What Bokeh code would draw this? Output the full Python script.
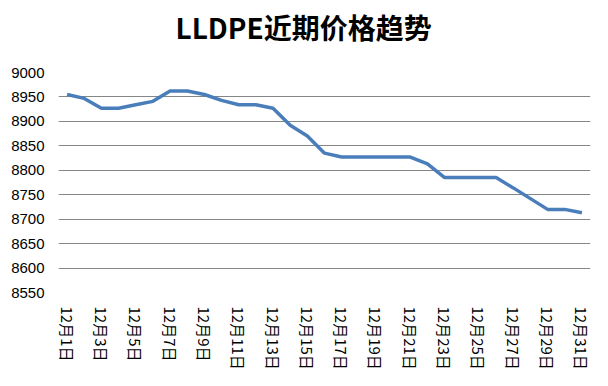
from bokeh.plotting import figure
from bokeh.models import Range1d, FixedTicker, Title
from bokeh.embed import file_html
from bokeh.resources import INLINE

# ---- data ----
dates = ["12月1日", "12月2日", "12月3日", "12月4日", "12月5日", "12月6日", "12月7日", "12月8日",
         "12月9日", "12月10日", "12月11日", "12月12日", "12月13日", "12月14日", "12月15日",
         "12月16日", "12月17日", "12月18日", "12月19日", "12月20日", "12月21日", "12月22日",
         "12月23日", "12月24日", "12月25日", "12月26日", "12月27日", "12月28日", "12月29日",
         "12月30日", "12月31日"]
prices = [8955, 8947, 8927, 8927, 8934, 8941, 8962, 8962, 8955, 8943, 8934, 8934, 8927,
          8892, 8870, 8835, 8827, 8827, 8827, 8827, 8827, 8813, 8785, 8785, 8785, 8785,
          8764, 8742, 8720, 8720, 8713]
shown_labels = ["12月1日", "12月3日", "12月5日", "12月7日", "12月9日", "12月11日", "12月13日",
                "12月15日", "12月17日", "12月19日", "12月21日", "12月23日", "12月25日",
                "12月27日", "12月29日", "12月31日"]
y_ticks = [8550, 8600, 8650, 8700, 8750, 8800, 8850, 8900, 8950, 9000]
title_text = "LLDPE近期价格趋势"

xs = list(range(1, len(dates) + 1))
tick_pos = [dates.index(lbl) + 1 for lbl in shown_labels]

p = figure(width=608, height=386, output_backend="svg", toolbar_location=None,
           x_range=Range1d(0.5, len(dates) + 0.5),
           y_range=Range1d(y_ticks[0], y_ticks[-1]),
           min_border_left=58, min_border_right=18, min_border_top=72, min_border_bottom=94)
p.outline_line_color = None
p.background_fill_color = "white"
p.border_fill_color = "white"

spacer = Title(text=" ", text_font_size="1px", standoff=21)
p.add_layout(spacer, "above")
t = Title(text=title_text, text_font="Noto Sans CJK SC", text_font_size="28px",
          text_font_style="bold", text_color="#000000", align="left", offset=117,
          standoff=4)
p.add_layout(t, "above")

p.line(xs, prices, line_color="#4A7EBB", line_width=3.5)

# y axis
p.yaxis.ticker = FixedTicker(ticks=y_ticks)
p.yaxis.axis_line_color = None
p.yaxis.major_tick_line_color = None
p.yaxis.minor_tick_line_color = None
p.yaxis.major_label_text_font = "Liberation Sans"
p.yaxis.major_label_text_font_size = "15px"
p.yaxis.major_label_text_color = "#000000"
p.yaxis.major_label_standoff = 8
p.ygrid.ticker = FixedTicker(ticks=y_ticks)
p.ygrid.grid_line_color = "#868686"
p.ygrid.grid_line_width = 1

# x axis
p.xaxis.ticker = FixedTicker(ticks=tick_pos)
p.xaxis.major_label_overrides = {pos: dates[pos - 1] for pos in tick_pos}
p.xaxis.major_label_orientation = "vertical"
p.xaxis.axis_line_color = None
p.xaxis.major_tick_line_color = None
p.xaxis.minor_tick_line_color = None
p.xaxis.major_label_text_font = "Noto Sans CJK SC"
p.xaxis.major_label_text_font_size = "15px"
p.xaxis.major_label_text_color = "#000000"
p.xaxis.major_label_standoff = 8
p.xgrid.grid_line_color = None

open("out.html", "w").write(file_html(p, INLINE))
